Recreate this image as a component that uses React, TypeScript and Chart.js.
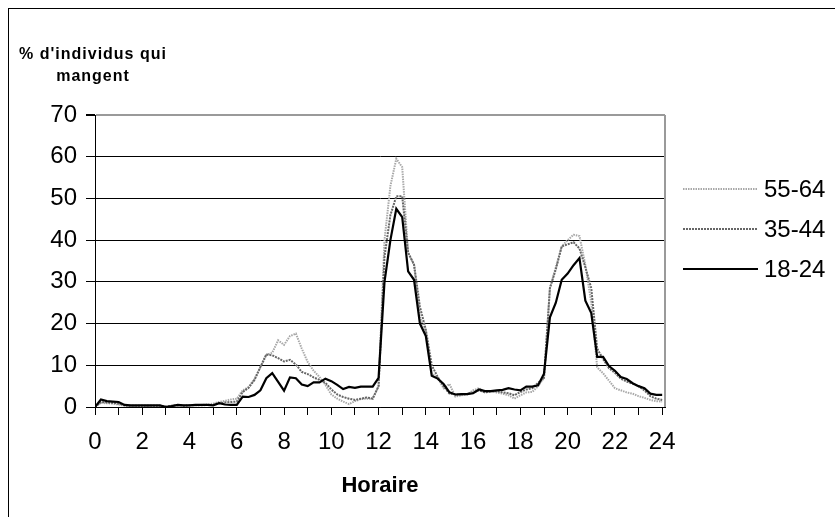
import { useEffect, useRef } from "react";
import { Chart, registerables } from "chart.js";

Chart.register(...registerables);

// Time of day, every 15 minutes (0h .. 24h)
const hours: number[] = Array.from({ length: 97 }, (_, i) => i / 4);
const xTickValues = [0, 1, 2, 3, 4, 5, 6, 7, 8, 9, 10, 11, 12, 13, 14, 15, 16, 17, 18, 19, 20, 21, 22, 23, 24];
const yTickValues = [0, 10, 20, 30, 40, 50, 60, 70];

const yTitleLines = ["% d'individus qui", "mangent"];
const xTitle = "Horaire";

// one line per hour: h, h+15min, h+30min, h+45min ; last value = 24h
const s1824 = [
  0, 1.8, 1.4, 1.3,
  1.2, 0.5, 0.4, 0.4,
  0.4, 0.4, 0.4, 0.4,
  0.0, 0.2, 0.5, 0.4,
  0.4, 0.5, 0.5, 0.5,
  0.4, 0.9, 0.6, 0.5,
  0.5, 2.5, 2.4, 2.9,
  4.0, 6.9, 8.1, 6.0,
  3.9, 7.1, 6.9, 5.4,
  5.0, 5.9, 5.9, 6.8,
  6.2, 5.3, 4.3, 4.8,
  4.6, 4.9, 4.9, 4.9,
  7.0, 30, 40, 47.5,
  45.5, 32.5, 30.5, 20,
  17, 7.5, 6.8, 5.5,
  3.5, 3.0, 3.1, 3.1,
  3.3, 4.2, 3.8, 3.8,
  4.0, 4.1, 4.5, 4.2,
  4.0, 4.9, 4.9, 5.2,
  8.0, 21.5, 25, 30.5,
  32, 34, 35.7, 25.5,
  22.5, 12, 12, 9.8,
  8.7, 7.2, 6.7, 5.7,
  5.0, 4.5, 3.2, 2.9,
  2.9,
];

const s3544 = [
  0, 1.2, 1.1, 1.0,
  0.8, 0.4, 0.3, 0.3,
  0.3, 0.3, 0.3, 0.3,
  0.1, 0.3, 0.4, 0.3,
  0.4, 0.4, 0.4, 0.5,
  0.5, 0.9, 1.1, 1.2,
  1.3, 3.6, 4.6, 6.5,
  9.6, 12.6, 12.4, 11.7,
  10.9, 11.3, 10.2, 8.4,
  7.9, 7.1, 6.5, 5.8,
  4.2, 3.0, 2.4, 2.0,
  1.7, 2.0, 2.3, 2.0,
  5.0, 36, 46, 50.5,
  50.5, 37, 34.2, 24,
  18.5, 10, 7.2, 5,
  3.2, 3.0, 3.0, 3.2,
  3.5, 4.0, 3.5, 3.7,
  3.8, 3.5, 3.3, 2.8,
  3.6, 4.2, 4.5, 5.8,
  7.0, 28.5, 33, 38.5,
  39, 39.5, 38, 33.5,
  28.5, 14, 11.5, 9.3,
  8.2, 6.8, 6.1, 5.6,
  5.0, 4.0, 2.6, 2.0,
  1.7,
];

const s5564 = [
  0, 1.0, 0.9, 0.8,
  0.6, 0.3, 0.2, 0.2,
  0.2, 0.2, 0.2, 0.2,
  0.1, 0.3, 0.4, 0.3,
  0.5, 0.4, 0.5, 0.6,
  0.8, 1.2, 1.5, 1.8,
  2.0, 4.0, 4.8, 6.7,
  9.5, 12.5, 13.0, 16.0,
  14.9, 17.0, 17.6, 14.0,
  10.8, 8.7, 7.2, 5.3,
  3.0, 2.0, 1.3, 0.7,
  1.4, 1.9, 2.0, 2.0,
  5.0, 40, 53, 59.5,
  57.5, 37, 34, 21.5,
  18, 8, 7, 4.5,
  5.5, 2.5, 2.8, 3.0,
  4.0, 4.5, 3.5, 3.8,
  3.5, 3.2, 2.8, 2.0,
  2.8, 3.5, 3.6, 5.0,
  7.0, 28.5, 33.5, 38.5,
  40, 41.3, 41, 34,
  25, 9.5, 8.1, 6.3,
  4.5, 4.0, 3.5, 3.2,
  2.6, 2.2, 1.7, 1.4,
  1.3,
];

const FONT = '"Liberation Sans", Arial, sans-serif';

const toPoints = (vals: number[]) => vals.map((v, i) => ({ x: hours[i], y: v }));

const decorPlugin = {
  id: "decor",
  afterDraw(chart: any) {
    const { ctx, chartArea: ca } = chart;
    ctx.save();
    // right frame of the plot area
    ctx.strokeStyle = "#9a9a9a";
    ctx.lineWidth = 2;
    ctx.beginPath();
    ctx.moveTo(ca.right, ca.top);
    ctx.lineTo(ca.right, ca.bottom);
    ctx.stroke();

    // y axis title (horizontal, two centred lines)
    ctx.fillStyle = "#000";
    ctx.font = `bold 16px ${FONT}`;
    ctx.textAlign = "center";
    ctx.textBaseline = "alphabetic";
    (ctx as any).letterSpacing = "1px";
    yTitleLines.forEach((t, i) => ctx.fillText(t, 93, 59 + i * 22));
    (ctx as any).letterSpacing = "0px";

    // legend (top to bottom: 55-64, 35-44, 18-24)
    const order = [2, 1, 0];
    ctx.font = `24px ${FONT}`;
    ctx.textAlign = "left";
    ctx.textBaseline = "middle";
    order.forEach((di, row) => {
      const ds = chart.data.datasets[di];
      const y = ca.top + 74 + row * 40;
      ctx.save();
      ctx.strokeStyle = ds.borderColor;
      ctx.lineWidth = ds.borderWidth;
      ctx.setLineDash(ds.borderDash || []);
      ctx.beginPath();
      ctx.moveTo(ca.right + 18, y);
      ctx.lineTo(ca.right + 93, y);
      ctx.stroke();
      ctx.restore();
      ctx.fillStyle = "#000";
      ctx.fillText(ds.label, ca.right + 99, y + 1);
    });
    ctx.restore();
  },
};

export default function App() {
  const ref = useRef<HTMLCanvasElement | null>(null);

  useEffect(() => {
    if (!ref.current) return;
    const chart = new Chart(ref.current, {
      type: "line",
      data: {
        datasets: [
          {
            label: "18-24",
            data: toPoints(s1824),
            borderColor: "#000000",
            borderWidth: 2.2,
            pointRadius: 0,
            tension: 0,
          },
          {
            label: "35-44",
            data: toPoints(s3544),
            borderColor: "#666666",
            borderWidth: 2,
            borderDash: [2, 1],
            pointRadius: 0,
            tension: 0,
          },
          {
            label: "55-64",
            data: toPoints(s5564),
            borderColor: "#a8a8a8",
            borderWidth: 2,
            borderDash: [1.5, 1],
            pointRadius: 0,
            tension: 0,
          },
        ],
      },
      options: {
        animation: false,
        responsive: false,
        layout: { padding: { left: 0, top: 115, right: 170, bottom: 0 } },
        plugins: {
          legend: { display: false },
          tooltip: { enabled: false },
          title: { display: false },
        },
        scales: {
          x: {
            type: "linear",
            min: 0,
            max: 24.12,
            afterBuildTicks: (axis: any) => {
              axis.ticks = xTickValues.map((v) => ({ value: v }));
            },
            afterFit: (scale: any) => {
              scale.height = 110;
            },
            ticks: {
              autoSkip: false,
              maxRotation: 0,
              padding: 13,
              color: "#000",
              font: { size: 24, family: FONT },
              callback: (v: any) => (Number(v) % 2 === 0 ? String(v) : ""),
            },
            grid: {
              drawOnChartArea: false,
              drawTicks: true,
              tickLength: 8,
              color: "#000",
            },
            border: { color: "#000", width: 1 },
            title: {
              display: true,
              text: xTitle,
              color: "#000",
              font: { size: 22, weight: "bold", family: FONT },
              padding: { top: 0, bottom: 18 },
            },
          },
          y: {
            min: 0,
            max: 70,
            afterBuildTicks: (axis: any) => {
              axis.ticks = yTickValues.map((v) => ({ value: v }));
            },
            afterFit: (scale: any) => {
              scale.width = 95;
            },
            ticks: {
              padding: 9,
              color: "#000",
              font: { size: 24, family: FONT },
            },
            grid: {
              drawTicks: true,
              tickLength: 9,
              color: (c: any) => (c.tick && c.tick.value === 70 ? "#9a9a9a" : "#000"),
              lineWidth: (c: any) => (c.tick && c.tick.value === 70 ? 2 : 1),
              tickColor: "#000",
            },
            border: { color: "#000", width: 1 },
          },
        },
      },
      plugins: [decorPlugin],
    });
    return () => chart.destroy();
  }, []);

  return (
    <div
      style={{
        position: "fixed",
        left: 0,
        top: 0,
        width: 835,
        height: 517,
        background: "#fff",
        overflow: "hidden",
      }}
    >
      <div
        style={{
          position: "absolute",
          left: 8,
          top: 8,
          right: -2,
          bottom: -2,
          borderLeft: "1px solid #000",
          borderTop: "1px solid #000",
        }}
      />
      <canvas
        ref={ref}
        width={835}
        height={517}
        style={{ position: "absolute", left: 0, top: 0, width: 835, height: 517 }}
      />
    </div>
  );
}
